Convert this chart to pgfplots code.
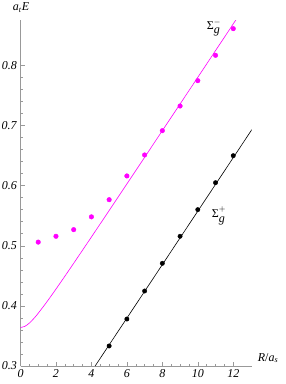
\documentclass[border=0pt]{standalone}
\usepackage{fontspec}
\setmainfont{Liberation Serif}
\usepackage{pgfplots}
\pgfplotsset{compat=1.18}
\definecolor{mag}{rgb}{1,0,1}
\begin{document}
\begin{tikzpicture}[x=1pt,y=1pt]
\useasboundingbox (0,0) rectangle (286,384);
\begin{axis}[
 at={(20.5pt,18pt)}, anchor=south west,
 width=231.2pt, height=346pt, scale only axis,
 xmin=0, xmax=13.04, ymin=0.3, ymax=0.8753,
 axis x line=bottom, axis y line=left,
 axis line style={-, draw=gray!80, line width=0.5pt},
 xtick={0,2,4,6,8,10,12}, ytick={0.3,0.4,0.5,0.6,0.7,0.8},
 minor x tick num=3, minor y tick num=4,
 tick align=inside, major tick length=4pt, minor tick length=2.2pt,
 tick style={gray!80, line width=0.4pt},
 xticklabels={\textit{0},\textit{2},\textit{4},\textit{6},\textit{8},\textit{10},\textit{12}},
 yticklabels={\textit{0.3},\textit{0.4},\textit{0.5},\textit{0.6},\textit{0.7},\textit{0.8}},
 ticklabel style={font=\fontsize{12}{12}\selectfont, text=black},
 clip=true,
]
\addplot[mag, line width=0.6pt, smooth] coordinates {
(0,0.364)(0.25,0.3660)(0.5,0.3714)(0.75,0.3789)(1,0.3877)(1.5,0.4072)(2,0.4279)(2.5,0.4492)(3,0.4708)(4,0.5145)(5,0.5585)(6,0.6027)(8,0.6913)(10,0.7800)(12.15,0.8755)};
\addplot[only marks, mark=*, mark size=2.3pt, mag] coordinates {
(1,0.506)(2,0.5157)(3,0.5267)(4,0.548)(5,0.5765)(6,0.616)(7,0.6509)(8,0.6913)(9,0.7323)(10,0.7744)(11,0.8166)(12,0.8609)};
\addplot[black, line width=0.6pt] coordinates {(4.21,0.3)(13.06,0.6936)};
\addplot[only marks, mark=*, mark size=2.2pt, black] coordinates {
(5,0.3333)(6,0.3781)(7,0.4247)(8,0.4707)(9,0.5157)(10,0.560)(11,0.6048)(12,0.6497)};
\end{axis}
\node[font=\fontsize{12}{12}\selectfont] at (21,376) {\textit{a}\textsubscript{\textit{t}}\textit{E}};
\node[font=\fontsize{12}{12}\selectfont] at (268,26) {\textit{R}/\textit{a}\textsubscript{\textit{s}}};
\node[font=\fontsize{12}{12}\selectfont] at (214,356) {Σ$^{\raisebox{1pt}{$\scriptstyle -$}}_{\raisebox{-1pt}{\textit{g}}}$};
\node[font=\fontsize{12}{12}\selectfont] at (219,168) {Σ$^{\raisebox{1.5pt}{$\scriptstyle +$}}_{\raisebox{-1.5pt}{\textit{g}}}$};
\end{tikzpicture}
\end{document}
